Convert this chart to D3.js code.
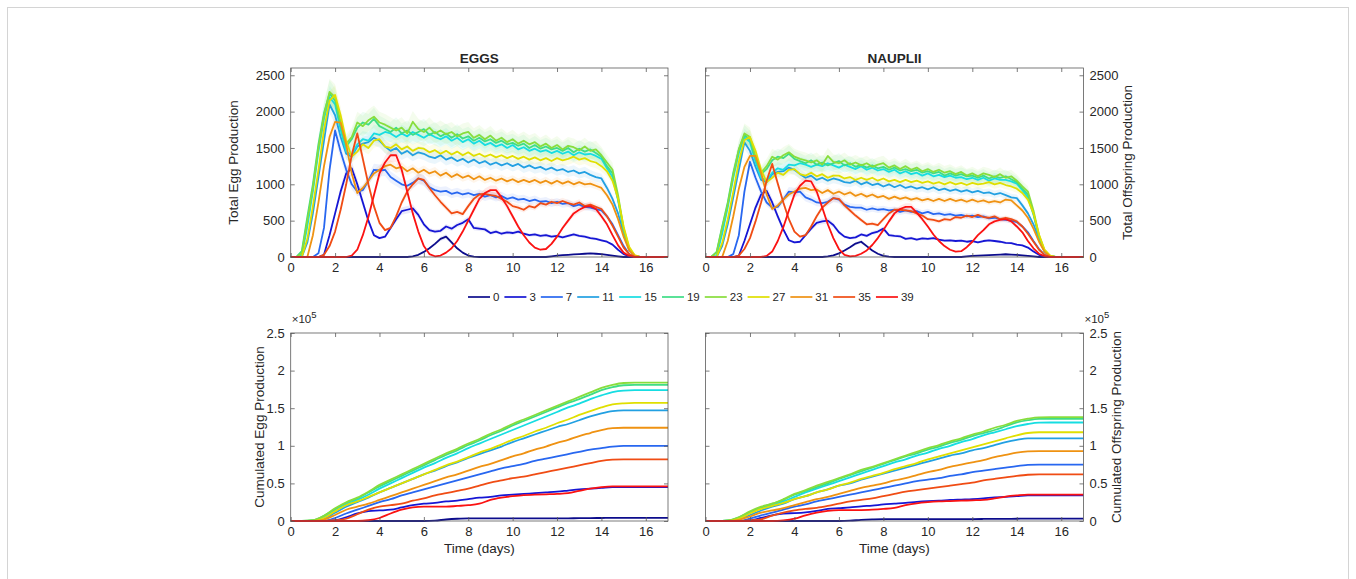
<!DOCTYPE html>
<html>
<head>
<meta charset="utf-8">
<script src="https://cdn.jsdelivr.net/npm/d3@7"></script>
<style>
  body { margin: 0; background: #fff; }
  text { font-family: "Liberation Sans", Arial, Helvetica, sans-serif; fill: #262626; }
</style>
</head>
<body>
<svg id="chart" width="1356" height="579"></svg>
<script>
// ---- data ----
const temps = [0, 3, 7, 11, 15, 19, 23, 27, 31, 35, 39];
const colors = ["#0c0c8c", "#1616d4", "#2867f0", "#22a0e2", "#16dde2", "#3edd86", "#88dd3c", "#e0df00", "#ef9212", "#f04c14", "#fb1212"];
const xTicks = [0, 2, 4, 6, 8, 10, 12, 14, 16];
const rateTicks = [0, 500, 1000, 1500, 2000, 2500];
const cumTicks = [0, 0.5, 1, 1.5, 2, 2.5];
const rateStep = 0.25;   // days between samples of the production series
const cumStep = 0.5;     // days between samples of the cumulated series

// egg production, t = 0 .. 17 by 0.25 d
const eggs0 = [
0,0,0,0, 0,0,0,0, 0,0,0,0, 0,0,0,0, 0,0,0,0,
0,0,10,30, 70,120,180,250, 280,200,120,60, 20,5,0,0, 0,0,0,0,
0,0,0,0, 0,0,0,10, 20,25,30,35, 40,45,50,45, 40,30,20,10,
0,0,0,0, 0,0,0,0, 0];
const eggs3 = [
0,0,0,0, 0,0,30,300, 600,900,1150,1220, 1000,750,500,300, 260,280,400,520,
630,650,670,580, 450,370,350,360, 420,390,440,470, 520,400,390,380, 330,350,320,340,
330,350,320,300, 310,290,300,280, 290,270,290,310, 290,280,260,250, 230,210,170,100,
40,10,0,0, 0,0,0,0, 0];
const eggs7 = [
0,0,0,0, 0,50,400,1200, 1740,1450,1200,1000, 900,920,1050,1200, 1190,1200,1100,1050,
1000,980,1020,1080, 1050,960,920,900, 910,870,890,860, 880,850,870,830, 850,820,840,800,
820,790,800,770, 790,760,770,740, 760,730,740,700, 720,690,680,660, 640,560,450,300,
150,40,0,0, 0,0,0,0, 0];
const eggs11 = [
0,0,0,200, 600,1100,1600,2100, 1950,1650,1420,1380, 1520,1560,1580,1640, 1600,1520,1460,1500,
1420,1460,1400,1440, 1420,1380,1360,1400, 1340,1370,1320,1350, 1300,1340,1290,1320, 1270,1300,1260,1290,
1250,1280,1230,1260, 1220,1240,1200,1230, 1190,1210,1170,1190, 1150,1170,1130,1100, 1080,950,800,600,
320,100,15,0, 0,0,0,0, 0];
const eggs15 = [
0,0,20,420, 900,1450,1900,2200, 2100,1750,1450,1400, 1550,1620,1600,1700, 1680,1720,1700,1650,
1700,1660,1720,1680, 1640,1690,1650,1620, 1660,1600,1640,1580, 1620,1560,1600,1540, 1570,1520,1550,1500,
1540,1480,1510,1460, 1490,1450,1470,1430, 1460,1420,1450,1400, 1440,1410,1420,1390, 1350,1220,1100,780,
360,100,15,0, 0,0,0,0, 0];
const eggs19 = [
0,0,80,550, 1000,1550,1980,2250, 2150,1800,1520,1620, 1780,1850,1820,1900, 1800,1760,1720,1780,
1700,1740,1680,1720, 1760,1680,1720,1660, 1700,1640,1690,1630, 1660,1600,1640,1590, 1620,1570,1600,1550,
1570,1530,1560,1500, 1540,1490,1520,1480, 1500,1460,1500,1440, 1490,1450,1480,1430, 1380,1250,1150,800,
380,110,20,0, 0,0,0,0, 0];
const eggs23 = [
0,0,50,500, 950,1500,1950,2270, 2200,1850,1560,1650, 1850,1800,1880,1930, 1850,1820,1780,1740,
1780,1700,1860,1760, 1720,1780,1700,1740, 1690,1720,1660,1700, 1720,1640,1680,1620, 1670,1600,1640,1580,
1620,1560,1600,1550, 1580,1520,1560,1500, 1540,1480,1530,1510, 1470,1520,1460,1480, 1400,1300,1200,850,
400,120,20,0, 0,0,0,0, 0];
const eggs27 = [
0,0,0,250, 700,1200,1750,2150, 2230,1950,1600,1380, 1450,1550,1500,1600, 1620,1520,1500,1550,
1480,1520,1460,1500, 1490,1440,1470,1420, 1460,1410,1450,1400, 1440,1390,1420,1380, 1410,1370,1400,1360,
1390,1350,1380,1340, 1370,1330,1360,1320, 1360,1330,1350,1380, 1340,1360,1320,1300, 1250,1180,1050,800,
420,140,25,0, 0,0,0,0, 0];
const eggs31 = [
0,0,0,0, 300,750,1250,1650, 1860,1850,1550,1150, 880,950,1050,1150, 1200,1250,1270,1220,
1240,1180,1220,1160, 1200,1150,1180,1120, 1160,1100,1140,1090, 1120,1070,1110,1060, 1090,1050,1080,1040,
1070,1030,1060,1030, 1060,1020,1050,1010, 1050,1010,1040,1000, 1030,1000,1010,980, 950,850,720,520,
280,90,15,0, 0,0,0,0, 0];
const eggs35 = [
0,0,0,0, 0,0,30,150, 350,650,1000,1400, 1700,1350,1000,700, 470,370,400,560,
750,900,1000,1080, 1060,950,850,760, 680,600,620,590, 700,800,860,870, 850,840,800,760,
700,680,650,700, 680,740,720,760, 740,770,740,720, 750,700,720,690, 660,560,430,280,
130,40,0,0, 0,0,0,0, 0];
const eggs39 = [
0,0,0,0, 0,0,0,0, 0,0,0,20, 100,300,550,850, 1150,1300,1400,1400,
1200,900,600,350, 150,40,10,20, 60,120,220,350, 500,650,800,880, 920,920,820,700,
560,420,300,200, 130,100,110,180, 280,400,500,600, 650,690,700,660, 560,450,300,160,
60,15,0,0, 0,0,0,0, 0];

// nauplii (offspring) production, t = 0 .. 17 by 0.25 d
const naup0 = [
0,0,0,0, 0,0,0,0, 0,0,0,0, 0,0,0,0, 0,0,0,0,
0,0,8,22, 50,90,135,185, 210,150,90,45, 15,4,0,0, 0,0,0,0,
0,0,0,0, 0,0,0,8, 15,18,22,26, 30,34,38,34, 30,22,15,8,
0,0,0,0, 0,0,0,0, 0];
const naup3 = [
0,0,0,0, 0,0,20,220, 450,680,860,910, 750,560,380,230, 200,210,300,390,
470,490,500,440, 340,280,260,270, 310,290,330,350, 390,300,290,285, 250,260,240,255,
250,260,240,225, 230,220,225,210, 220,200,220,230, 220,210,195,190, 170,160,130,75,
30,8,0,0, 0,0,0,0, 0];
const naup7 = [
0,0,0,0, 0,40,300,900, 1310,1090,900,750, 680,690,790,900, 890,900,820,790,
750,740,760,810, 790,720,690,680, 680,650,670,650, 660,640,650,620, 640,620,630,600,
620,590,600,580, 590,570,580,560, 570,550,560,530, 540,520,510,500, 480,420,340,220,
110,30,0,0, 0,0,0,0, 0];
const naup11 = [
0,0,0,150, 450,820,1200,1580, 1460,1240,1060,1030, 1140,1170,1180,1230, 1200,1140,1090,1120,
1060,1090,1050,1080, 1060,1030,1020,1050, 1000,1030,990,1010, 970,1000,960,990, 950,970,940,960,
930,960,920,940, 910,930,900,920, 890,910,880,890, 860,880,850,820, 810,710,600,450,
240,75,10,0, 0,0,0,0, 0];
const naup15 = [
0,0,15,320, 680,1090,1430,1650, 1580,1310,1090,1050, 1160,1220,1200,1270, 1260,1290,1270,1240,
1270,1250,1290,1260, 1230,1270,1240,1210, 1250,1200,1230,1190, 1210,1170,1200,1150, 1180,1140,1160,1120,
1150,1110,1130,1100, 1120,1090,1100,1070, 1090,1060,1090,1050, 1080,1060,1060,1040, 1010,920,820,580,
270,75,10,0, 0,0,0,0, 0];
const naup19 = [
0,0,70,420, 750,1160,1480,1680, 1610,1350,1140,1210, 1330,1380,1360,1420, 1350,1320,1290,1330,
1270,1300,1260,1290, 1320,1260,1290,1240, 1270,1230,1260,1220, 1240,1200,1230,1190, 1210,1180,1200,1160,
1180,1150,1170,1120, 1150,1120,1140,1110, 1120,1090,1120,1080, 1110,1090,1110,1070, 1030,940,860,600,
280,80,15,0, 0,0,0,0, 0];
const naup23 = [
0,0,60,400, 720,1130,1480,1700, 1650,1380,1160,1250, 1380,1340,1400,1440, 1380,1350,1330,1300,
1330,1270,1390,1310, 1290,1330,1270,1300, 1260,1290,1240,1270, 1290,1230,1260,1210, 1250,1200,1230,1180,
1210,1170,1200,1160, 1180,1140,1170,1120, 1150,1110,1150,1130, 1100,1140,1090,1110, 1050,970,900,640,
300,90,15,0, 0,0,0,0, 0];
const naup27 = [
0,0,0,190, 520,900,1310,1610, 1650,1460,1200,1030, 1090,1160,1130,1200, 1210,1140,1120,1160,
1110,1140,1090,1120, 1120,1080,1100,1060, 1090,1060,1090,1050, 1080,1040,1060,1030, 1060,1030,1050,1020,
1040,1010,1030,1000, 1030,1000,1020,990, 1020,1000,1010,1030, 1000,1020,990,970, 940,880,790,600,
310,100,20,0, 0,0,0,0, 0];
const naup31 = [
0,0,0,0, 220,560,940,1240, 1390,1390,1160,860, 660,710,790,860, 900,940,950,920,
930,880,920,870, 900,860,890,840, 870,830,860,820, 840,800,830,800, 820,790,810,780,
800,770,800,770, 800,770,790,760, 790,760,780,750, 770,750,790,780, 710,640,540,390,
210,70,10,0, 0,0,0,0, 0];
const naup35 = [
0,0,0,0, 0,0,20,110, 260,490,750,1050, 1280,1010,750,520, 350,280,300,420,
560,680,750,810, 800,710,640,570, 510,450,460,440, 520,600,650,650, 640,630,600,570,
520,510,490,520, 510,550,540,570, 550,580,550,540, 560,520,540,520, 490,420,320,210,
100,30,0,0, 0,0,0,0, 0];
const naup39 = [
0,0,0,0, 0,0,0,0, 0,0,0,15, 75,220,410,640, 860,980,1050,1040,
900,680,450,260, 110,30,8,15, 45,90,165,260, 370,490,600,660, 690,690,610,520,
420,310,220,150, 100,75,80,135, 210,300,370,450, 490,510,520,490, 420,340,220,120,
45,10,0,0, 0,0,0,0, 0];

// cumulated production (x 1e5), t = 0 .. 17 by 0.5 d
const cumEggs0 = [0,0,0,0,0,0,0,0,0,0,0,0,0, .005,.02,.03,.035, .035,.035,.035,.035,.035,.035,.035,.035, .036,.037,.039,.04,.041, .041,.041,.041,.041,.041];
const cumEggs3 = [0,0,0,0, .01,.05,.10,.13,.14,.15,.18,.21,.23,.24, .26,.27,.29,.31,.32,.34,.35,.36,.37,.38, .39,.405,.42,.43,.44,.45,.45, .45,.45,.45,.45];
const cumEggs7 = [0,0,0,0, .04,.10,.15,.20,.25,.29,.34,.38,.42,.46, .50,.54,.58,.62,.66,.70,.73,.76,.80,.83, .86,.89,.92,.95,.97,.99,1.0, 1.0,1.0,1.0,1.0];
const cumEggs11 = [0,0,0,.03, .11,.19,.25,.31,.38,.44,.50,.56,.62,.67, .73,.78,.84,.89,.94,.99,1.05,1.10,1.15,1.20, 1.25,1.29,1.34,1.39,1.43,1.46,1.47, 1.47,1.47,1.47,1.47];
const cumEggs15 = [0,0,.005,.05, .15,.22,.28,.35,.43,.50,.57,.64,.71,.77, .84,.90,.97,1.03,1.09,1.15,1.21,1.27,1.33,1.39, 1.45,1.51,1.56,1.62,1.67,1.715,1.735, 1.74,1.74,1.74,1.74];
const cumEggs19 = [0,0,.01,.07, .16,.24,.30,.38,.46,.53,.60,.67,.74,.81, .88,.94,1.01,1.07,1.14,1.20,1.27,1.33,1.39,1.45, 1.51,1.57,1.62,1.68,1.74,1.78,1.805, 1.81,1.81,1.81,1.81];
const cumEggs23 = [0,0,.01,.07, .17,.25,.31,.39,.48,.55,.62,.69,.76,.83, .90,.96,1.03,1.09,1.16,1.22,1.29,1.35,1.41,1.47, 1.53,1.59,1.65,1.71,1.77,1.81,1.835, 1.84,1.84,1.84,1.84];
const cumEggs27 = [0,0,0,.04, .13,.21,.26,.32,.38,.44,.50,.56,.62,.68, .74,.79,.85,.91,.96,1.02,1.08,1.13,1.19,1.24, 1.30,1.35,1.41,1.46,1.51,1.55,1.565, 1.57,1.57,1.57,1.57];
const cumEggs31 = [0,0,0,.02, .08,.15,.19,.23,.28,.33,.38,.43,.48,.53, .58,.62,.67,.72,.76,.81,.86,.90,.95,.99, 1.04,1.08,1.13,1.17,1.21,1.235,1.24, 1.24,1.24,1.24,1.24];
const cumEggs35 = [0,0,0,0, .01,.03,.09,.15,.19,.21,.23,.27,.30,.34, .37,.40,.43,.47,.51,.54,.57,.59,.62,.65, .68,.71,.74,.77,.80,.815,.82, .82,.82,.82,.82];
const cumEggs39 = [0,0,0,0,0,0,0, .01,.04,.10,.15,.18,.19,.19,.19,.20,.21,.23,.28,.31,.33,.345,.35,.355,.36,.37,.40,.43,.45,.46, .46,.46,.46,.46,.46];

const cumNaup0 = [0,0,0,0,0,0,0,0,0,0,0,0,0, .004,.015,.022,.026, .026,.026,.026,.026,.026,.026,.026,.026, .027,.028,.029,.03,.031, .031,.031,.031,.031,.031];
const cumNaup3 = [0,0,0,0, .008,.04,.075,.10,.105,.115,.135,.16,.17,.18, .195,.205,.22,.23,.24,.255,.265,.27,.28,.285, .29,.30,.315,.32,.33,.34,.34, .34,.34,.34,.34];
const cumNaup7 = [0,0,0,0, .03,.075,.11,.15,.19,.22,.26,.29,.32,.35, .38,.41,.44,.47,.50,.53,.55,.57,.60,.62, .65,.67,.69,.71,.73,.745,.75, .75,.75,.75,.75];
const cumNaup11 = [0,0,0,.02, .08,.14,.19,.23,.29,.33,.38,.42,.47,.50, .55,.59,.63,.67,.71,.75,.79,.83,.87,.90, .94,.97,1.01,1.05,1.08,1.10,1.10, 1.10,1.10,1.10,1.10];
const cumNaup15 = [0,0,.004,.04, .11,.17,.21,.26,.32,.38,.43,.48,.53,.58, .63,.68,.73,.78,.82,.87,.91,.96,1.00,1.05, 1.09,1.14,1.18,1.22,1.26,1.29,1.308, 1.31,1.31,1.31,1.31];
const cumNaup19 = [0,0,.008,.05, .12,.18,.23,.28,.35,.40,.45,.50,.56,.61, .66,.71,.76,.81,.86,.90,.95,.99,1.04,1.08, 1.13,1.17,1.21,1.26,1.31,1.34,1.358, 1.36,1.36,1.36,1.36];
const cumNaup23 = [0,0,.008,.05, .13,.19,.23,.29,.36,.41,.47,.52,.57,.62, .68,.72,.77,.82,.87,.92,.97,1.01,1.06,1.10, 1.15,1.19,1.24,1.28,1.33,1.36,1.378, 1.38,1.38,1.38,1.38];
const cumNaup27 = [0,0,0,.03, .10,.16,.20,.24,.29,.33,.38,.42,.47,.51, .56,.60,.64,.69,.73,.77,.82,.86,.90,.94, .98,1.02,1.06,1.10,1.14,1.17,1.18, 1.18,1.18,1.18,1.18];
const cumNaup31 = [0,0,0,.015, .06,.11,.14,.17,.21,.25,.29,.32,.36,.40, .44,.47,.50,.54,.57,.61,.65,.68,.72,.75, .78,.81,.85,.88,.91,.926,.93, .93,.93,.93,.93];
const cumNaup35 = [0,0,0,0, .008,.023,.07,.11,.14,.16,.175,.20,.23,.26, .28,.30,.33,.36,.39,.41,.43,.45,.47,.49, .51,.54,.56,.58,.60,.615,.62, .62,.62,.62,.62];
const cumNaup39 = [0,0,0,0,0,0,0, .008,.03,.075,.11,.135,.145,.145,.145,.15,.16,.175,.21,.235,.25,.26,.265,.27,.275,.28,.30,.325,.34,.35, .35,.35,.35,.35,.35];

// relative width of the shaded spread around each production curve
const eggsSpread = [0.12, 0.08, 0.07, 0.06, 0.07, 0.08, 0.08, 0.06, 0.05, 0.06, 0.07];
const naupSpread = [0.12, 0.08, 0.07, 0.06, 0.07, 0.08, 0.08, 0.06, 0.05, 0.06, 0.07];

const eggsRate = [eggs0, eggs3, eggs7, eggs11, eggs15, eggs19, eggs23, eggs27, eggs31, eggs35, eggs39];
const naupRate = [naup0, naup3, naup7, naup11, naup15, naup19, naup23, naup27, naup31, naup35, naup39];
const eggsCum = [cumEggs0, cumEggs3, cumEggs7, cumEggs11, cumEggs15, cumEggs19, cumEggs23, cumEggs27, cumEggs31, cumEggs35, cumEggs39];
const naupCum = [cumNaup0, cumNaup3, cumNaup7, cumNaup11, cumNaup15, cumNaup19, cumNaup23, cumNaup27, cumNaup31, cumNaup35, cumNaup39];

// ---- drawing ----
const svg = d3.select("#chart");
svg.append("rect")
    .attr("x", 7.5).attr("y", 7.5)
    .attr("width", 1341).attr("height", 620)
    .attr("fill", "#fff")
    .attr("stroke", "#d4d4d4");

const cols = [{ left: 290.7, right: 668 }, { left: 705.5, right: 1083.5 }];
const rows = [{ top: 68, bottom: 257 }, { top: 333, bottom: 521 }];
const axisColor = "#5a5a5a";
const fontSize = 13;

function drawPanel(p) {
    const c = cols[p.col], r = rows[p.row];
    const x = d3.scaleLinear().domain([0, 17]).range([c.left, c.right]);
    const y = d3.scaleLinear().domain([0, p.yMax]).range([r.bottom, r.top]);
    const g = svg.append("g");
    const clipId = "clip" + p.col + p.row;

    g.append("clipPath").attr("id", clipId)
        .append("rect")
        .attr("x", c.left).attr("y", r.top - 1)
        .attr("width", c.right - c.left).attr("height", r.bottom - r.top + 2);

    const plot = g.append("g").attr("clip-path", `url(#${clipId})`);

    // faint spread bands behind the lines
    if (p.spread) {
        p.series.forEach((s, k) => {
            const f = p.spread[k];
            plot.append("path")
                .attr("d", d3.area()
                    .x((d, i) => x(i * p.step))
                    .y0(d => y(d * (1 - f)))
                    .y1(d => y(d * (1 + f)))(s))
                .attr("fill", colors[k])
                .attr("fill-opacity", 0.09)
                .attr("stroke", "none");
        });
    }

    const line = d3.line()
        .x((d, i) => x(i * p.step))
        .y(d => y(d))
        .curve(p.smooth ? d3.curveMonotoneX : d3.curveLinear);

    p.series.forEach((s, k) => {
        plot.append("path")
            .attr("d", line(s))
            .attr("fill", "none")
            .attr("stroke", colors[k])
            .attr("stroke-width", 1.8)
            .attr("stroke-linejoin", "round");
    });

    // box
    g.append("rect")
        .attr("x", c.left).attr("y", r.top)
        .attr("width", c.right - c.left).attr("height", r.bottom - r.top)
        .attr("fill", "none")
        .attr("stroke", axisColor)
        .attr("stroke-width", 0.8);

    const styleAxis = sel => {
        sel.select(".domain").remove();
        sel.selectAll(".tick line").attr("stroke", axisColor).attr("stroke-width", 0.8);
        sel.selectAll(".tick text")
            .attr("fill", "#262626")
            .style("font-size", fontSize + "px")
            .style("font-family", '"Liberation Sans", Arial, sans-serif');
    };

    g.append("g").attr("transform", `translate(0,${r.bottom})`)
        .call(d3.axisBottom(x).tickValues(xTicks).tickSize(-4).tickPadding(6))
        .call(styleAxis);
    g.append("g").attr("transform", `translate(0,${r.top})`)
        .call(d3.axisTop(x).tickValues(xTicks).tickSize(-4).tickFormat(""))
        .call(styleAxis);

    const yAxisLabelled = p.side === "left" ? d3.axisLeft(y) : d3.axisRight(y);
    const yAxisMirror = p.side === "left" ? d3.axisRight(y) : d3.axisLeft(y);
    g.append("g").attr("transform", `translate(${p.side === "left" ? c.left : c.right},0)`)
        .call(yAxisLabelled.tickValues(p.yTicks).tickSize(-4).tickPadding(6).tickFormat(p.yFmt))
        .call(styleAxis);
    g.append("g").attr("transform", `translate(${p.side === "left" ? c.right : c.left},0)`)
        .call(yAxisMirror.tickValues(p.yTicks).tickSize(-4).tickFormat(""))
        .call(styleAxis);

    // y label
    g.append("text")
        .attr("transform", `translate(${p.labelX},${(r.top + r.bottom) / 2}) rotate(-90)`)
        .attr("text-anchor", "middle")
        .attr("dy", "0.35em")
        .style("font-size", "13.5px")
        .text(p.ylabel);

    if (p.title) {
        g.append("text")
            .attr("x", (c.left + c.right) / 2).attr("y", 63)
            .attr("text-anchor", "middle")
            .style("font-size", "13.5px")
            .style("font-weight", "bold")
            .text(p.title);
    }
    if (p.xlabel) {
        g.append("text")
            .attr("x", (c.left + c.right) / 2).attr("y", 553)
            .attr("text-anchor", "middle")
            .style("font-size", "13.5px")
            .text(p.xlabel);
    }
    if (p.exponent) {
        const t = g.append("text")
            .attr("x", p.side === "left" ? c.left + 1 : c.right + 1)
            .attr("y", 323)
            .style("font-size", "11.5px");
        t.append("tspan").text("\u00d710");
        t.append("tspan").attr("dy", -5).style("font-size", "9.5px").text("5");
    }
}

const rateFmt = d => String(d);
const cumFmt = d => String(d);

drawPanel({ col: 0, row: 0, series: eggsRate, step: rateStep, yMax: 2600, yTicks: rateTicks, yFmt: rateFmt,
    side: "left", labelX: 233.5, ylabel: "Total Egg Production", title: "EGGS", spread: eggsSpread });
drawPanel({ col: 1, row: 0, series: naupRate, step: rateStep, yMax: 2600, yTicks: rateTicks, yFmt: rateFmt,
    side: "right", labelX: 1127.5, ylabel: "Total Offspring Production", title: "NAUPLII", spread: naupSpread });
drawPanel({ col: 0, row: 1, series: eggsCum, step: cumStep, yMax: 2.5, yTicks: cumTicks, yFmt: cumFmt,
    side: "left", labelX: 259, ylabel: "Cumulated Egg Production", xlabel: "Time (days)", smooth: true, exponent: true });
drawPanel({ col: 1, row: 1, series: naupCum, step: cumStep, yMax: 2.5, yTicks: cumTicks, yFmt: cumFmt,
    side: "right", labelX: 1116, ylabel: "Cumulated Offspring Production", xlabel: "Time (days)", smooth: true, exponent: true });

// legend
const legend = svg.append("g").attr("transform", "translate(0,297)");
let lx = 468;
temps.forEach((tp, k) => {
    legend.append("line")
        .attr("x1", lx).attr("x2", lx + 22)
        .attr("y1", 0).attr("y2", 0)
        .attr("stroke", colors[k]).attr("stroke-width", 1.7);
    const txt = legend.append("text")
        .attr("x", lx + 25).attr("y", 0).attr("dy", "0.35em")
        .style("font-size", "11.5px")
        .text(tp);
    lx += 25 + txt.node().getComputedTextLength() + 5;
});
</script>
</body>
</html>
